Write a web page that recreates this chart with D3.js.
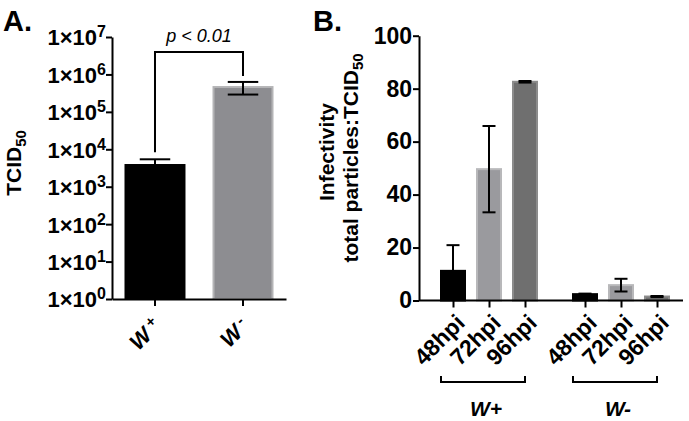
<!DOCTYPE html>
<html>
<head>
<meta charset="utf-8">
<script src="https://cdn.jsdelivr.net/npm/d3@7"></script>
<style>
  body { margin: 0; background: #fff; }
  svg { font-family: "Liberation Sans", Arial, sans-serif; font-weight: bold; }
</style>
</head>
<body>
<svg id="chart" width="689" height="421"></svg>
<script>
// panel A: TCID50 per group (log scale)
const groupsA = ["W +", "W -"];
const tcidMean = [3800, 460000];
const tcidErr = [1600, 170000];
const tickExpA = [0, 1, 2, 3, 4, 5, 6, 7];

// panel B: infectivity ratio by time point
const groupsB = ["W+", "W-"];
const times = ["48hpi", "72hpi", "96hpi"];
const infWplus = [11.2, 49.6, 82.6];
const errWplus = [9.7, 16.3, 0.3];
const infWminus = [2.4, 5.8, 1.5];
const errWminus = [0.2, 2.4, 0.2];
const ticksB = [0, 20, 40, 60, 80, 100];

const fillA = ["#000000", "#8d8d91"];
const strokeA = ["#000000", "#b4b4b6"];
const fillB = ["#000000", "#9a9a9e", "#6f6f6f"];
const strokeB = ["#000000", "#b8b8ba", "#8c8c8c"];

const svg = d3.select("#chart");

// ---------- Panel A ----------
const aY = d3.scaleLog().domain([1, 1e7]).range([299, 37]);
const aX = d3.scaleBand().domain(groupsA).range([112, 286])
    .paddingInner(0.307).paddingOuter(0.142);

const gA = svg.append("g");

svg.append("text").attr("x", 3).attr("y", 31)
    .attr("font-size", 29).text("A.");

const dataA = groupsA.map((g, i) => ({g, v: tcidMean[i], e: tcidErr[i], i}));

gA.selectAll("rect.barA").data(dataA).join("rect")
    .attr("class", "barA")
    .attr("x", d => aX(d.g) + 1)
    .attr("width", aX.bandwidth() - 2)
    .attr("y", d => aY(d.v))
    .attr("height", d => aY(1) - aY(d.v))
    .attr("fill", d => fillA[d.i])
    .attr("stroke", d => strokeA[d.i])
    .attr("stroke-width", 2);

const capA = aX.bandwidth() / 2;
dataA.forEach(d => {
    const cx = aX(d.g) + aX.bandwidth() / 2;
    const lo = aY(d.v - d.e), hi = aY(d.v + d.e);
    gA.append("line").attr("x1", cx).attr("x2", cx).attr("y1", lo).attr("y2", hi)
        .attr("stroke", "#000").attr("stroke-width", 2);
    [lo, hi].forEach(y => gA.append("line")
        .attr("x1", cx - capA / 2).attr("x2", cx + capA / 2)
        .attr("y1", y).attr("y2", y)
        .attr("stroke", "#000").attr("stroke-width", 2));
});

const axA = gA.append("g")
    .attr("transform", "translate(112,0)")
    .call(d3.axisLeft(aY).tickValues(tickExpA.map(e => 10 ** e)).tickSize(6).tickSizeOuter(0).tickFormat(""));
axA.selectAll("path, line").attr("stroke", "#000").attr("stroke-width", 2);
axA.selectAll(".tick text").remove();
axA.selectAll(".tick").append("text")
    .attr("x", -6).attr("dy", "0.36em")
    .attr("text-anchor", "end").attr("fill", "#000")
    .attr("font-size", 22).attr("font-family", "Liberation Sans, Arial, sans-serif")
    .each(function(d) {
        const t = d3.select(this);
        t.append("tspan").text("1×10");
        t.append("tspan").attr("font-size", 16).attr("dy", "-0.5em").text(Math.round(Math.log10(d)));
    });

const axAx = gA.append("g")
    .attr("transform", "translate(0,299)")
    .call(d3.axisBottom(aX).tickSize(7).tickSizeOuter(0).tickFormat(""));
axAx.selectAll("path, line").attr("stroke", "#000").attr("stroke-width", 2);
axAx.selectAll(".tick text").remove();
axAx.selectAll(".tick").append("text")
    .attr("text-anchor", "end").attr("fill", "#000")
    .attr("font-size", 22).attr("font-family", "Liberation Sans, Arial, sans-serif")
    .attr("transform", "translate(2,23) rotate(-45)")
    .attr("dy", "0.35em")
    .each(function(d) {
        const t = d3.select(this);
        t.append("tspan").attr("font-style", "italic").text(d.split(" ")[0]);
        t.append("tspan").attr("font-size", 15).attr("dy", "-0.5em").text(" " + d.split(" ")[1]);
    });

gA.append("text")
    .attr("transform", "translate(21,163) rotate(-90)")
    .attr("text-anchor", "middle").attr("font-size", 21)
    .call(t => {
        t.append("tspan").text("TCID");
        t.append("tspan").attr("font-size", 15).attr("dy", "0.35em").text("50");
    });

// significance bracket
const bx1 = aX(groupsA[0]) + aX.bandwidth() / 2;
const bx2 = aX(groupsA[1]) + aX.bandwidth() / 2;
const byTop = 52;
gA.append("path")
    .attr("d", `M${bx1},${aY(tcidMean[0] + tcidErr[0]) - 7}V${byTop}H${bx2}V${aY(tcidMean[1] + tcidErr[1]) - 6}`)
    .attr("fill", "none").attr("stroke", "#000").attr("stroke-width", 2);
gA.append("text")
    .attr("x", (bx1 + bx2) / 2).attr("y", 42)
    .attr("text-anchor", "middle").attr("font-size", 18)
    .attr("font-weight", "normal").attr("font-style", "italic")
    .text("p < 0.01");

// ---------- Panel B ----------
const gB = svg.append("g");
svg.append("text").attr("x", 313).attr("y", 31)
    .attr("font-size", 29).text("B.");

const bY = d3.scaleLinear().domain([0, 100]).range([300.5, 35.7]);
const bOuter = d3.scaleBand().domain(groupsB).range([423, 687]);
const bInner = d3.scaleBand().domain(times).range([17, 115]).paddingInner(10 / 36);

const dataB = [];
groupsB.forEach((g, gi) => {
    const vals = gi === 0 ? infWplus : infWminus;
    const errs = gi === 0 ? errWplus : errWminus;
    times.forEach((t, ti) => dataB.push({g, t, ti, v: vals[ti], e: errs[ti], key: g + "|" + t}));
});
const bx = d => bOuter(d.g) + bInner(d.t);

gB.selectAll("rect.barB").data(dataB).join("rect")
    .attr("class", "barB")
    .attr("x", d => bx(d) + 1)
    .attr("width", bInner.bandwidth() - 2)
    .attr("y", d => bY(d.v))
    .attr("height", d => bY(0) - bY(d.v))
    .attr("fill", d => fillB[d.ti])
    .attr("stroke", d => strokeB[d.ti])
    .attr("stroke-width", 2);

const capB = bInner.bandwidth() / 2;
dataB.forEach(d => {
    const cx = bx(d) + bInner.bandwidth() / 2;
    const lo = bY(d.v - d.e), hi = bY(d.v + d.e);
    gB.append("line").attr("x1", cx).attr("x2", cx).attr("y1", lo).attr("y2", hi)
        .attr("stroke", "#000").attr("stroke-width", 2);
    [lo, hi].forEach(y => gB.append("line")
        .attr("x1", cx - capB / 2).attr("x2", cx + capB / 2)
        .attr("y1", y).attr("y2", y)
        .attr("stroke", "#000").attr("stroke-width", 2));
});

const axB = gB.append("g")
    .attr("transform", "translate(419,0)")
    .call(d3.axisLeft(bY).tickValues(ticksB).tickSize(6).tickSizeOuter(0));
axB.selectAll("path, line").attr("stroke", "#000").attr("stroke-width", 2);
axB.selectAll("text").attr("font-size", 23).attr("fill", "#000")
    .attr("font-family", "Liberation Sans, Arial, sans-serif").attr("x", -7);

// x axis of panel B: positions from the nested band scales
const keyPos = d3.scaleOrdinal()
    .domain(dataB.map(d => d.key))
    .range(dataB.map(d => bx(d) + bInner.bandwidth() / 2));
const axBx = gB.append("g")
    .attr("transform", `translate(0,${bY(0)})`)
    .call(d3.axisBottom(keyPos).tickSize(7).tickSizeOuter(0).tickFormat(k => k.split("|")[1]));
axBx.select(".domain").remove();
axBx.append("line").attr("x1", 419).attr("x2", 683)
    .attr("stroke", "#000").attr("stroke-width", 2);
axBx.selectAll(".tick line").attr("stroke", "#000").attr("stroke-width", 2);
axBx.selectAll(".tick text")
    .attr("font-size", 23).attr("fill", "#000")
    .attr("font-family", "Liberation Sans, Arial, sans-serif")
    .attr("text-anchor", "end")
    .attr("y", 0).attr("dy", "0.35em")
    .attr("transform", "translate(7,18) rotate(-45)");

gB.append("text")
    .attr("transform", "translate(334,152) rotate(-90)")
    .attr("text-anchor", "middle").attr("font-size", 21)
    .text("Infectivity");
gB.append("text")
    .attr("transform", "translate(358,158) rotate(-90)")
    .attr("text-anchor", "middle").attr("font-size", 21)
    .call(t => {
        t.append("tspan").text("total particles:TCID");
        t.append("tspan").attr("font-size", 15).attr("dy", "0.35em").text("50");
    });

// group brackets under the time labels
groupsB.forEach(g => {
    const x1 = bOuter(g) + bInner(times[0]) + bInner.bandwidth() / 2 - 12;
    const x2 = bOuter(g) + bInner(times[2]) + bInner.bandwidth() / 2;
    gB.append("path")
        .attr("d", `M${x1},376V382H${x2}V376`)
        .attr("fill", "none").attr("stroke", "#000").attr("stroke-width", 2);
    gB.append("text")
        .attr("x", (x1 + x2) / 2 + 3).attr("y", 416)
        .attr("text-anchor", "middle").attr("font-size", 21)
        .attr("font-style", "italic")
        .text(g);
});
</script>
</body>
</html>
